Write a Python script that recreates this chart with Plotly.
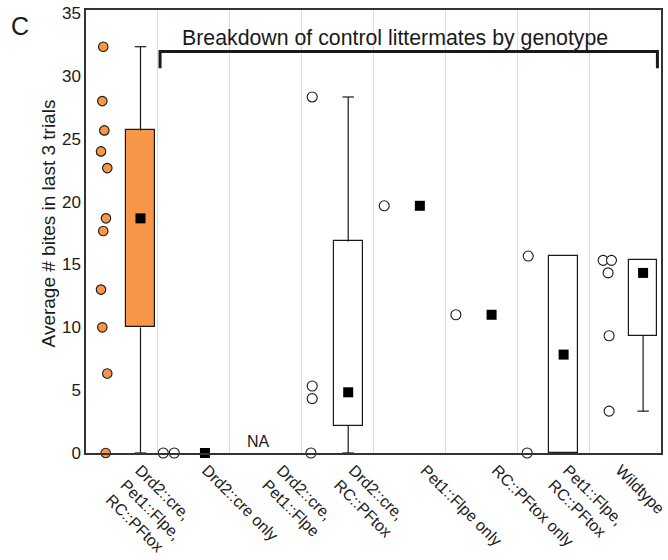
import plotly.graph_objects as go

# ---------------- data ----------------
categories = [
    "Drd2::cre,<br>Pet1::Flpe,<br>RC::PFtox",
    "Drd2::cre only",
    "Drd2::cre,<br>Pet1::Flpe",
    "Drd2::cre,<br>RC::PFtox",
    "Pet1::Flpe only",
    "RC::PFtox only",
    "Pet1::Flpe,<br>RC::PFtox",
    "Wildtype",
]
points_exp = [32.33, 28.0, 25.67, 24.0, 22.67, 18.67, 17.67, 13.0, 10.0, 6.33, 0.0]
points_drd2_only = [0.0, 0.0]
points_drd2_pet1 = []  # NA
points_drd2_rc = [28.33, 5.33, 4.33, 0.0]
points_pet1_only = [19.67]
points_rc_only = [11.0]
points_pet1_rc = [15.67, 0.0]
points_wt = [15.33, 15.33, 14.33, 9.33, 3.33]
all_points = [points_exp, points_drd2_only, points_drd2_pet1, points_drd2_rc,
              points_pet1_only, points_rc_only, points_pet1_rc, points_wt]

# box summaries (None = not drawn)
box_median = [18.67, 0.0, None, 4.83, 19.67, 11.0, 7.83, 14.33]
box_q1 = [10.0, None, None, 2.17, None, None, 0.0, 9.33]
box_q3 = [25.67, None, None, 16.83, None, None, 15.67, 15.33]
box_lo = [0.0, None, None, 0.0, None, None, 0.0, 3.33]
box_hi = [32.33, None, None, 28.33, None, None, 15.67, 15.33]

y_ticks = [0, 5, 10, 15, 20, 25, 30, 35]

# ---------------- layout positions ----------------
point_jitter = [
    [-0.26, -0.273, -0.245, -0.291, -0.204, -0.222, -0.26, -0.291, -0.273, -0.204, -0.226],
    [-0.425, -0.272],
    [],
    [-0.353, -0.353, -0.353, -0.37],
    [-0.351],
    [-0.354],
    [-0.348, -0.362],
    [-0.305, -0.189, -0.236, -0.222, -0.222],
]
box_offset = [0.258, 0.155, 0, 0.148, 0.145, 0.143, 0.145, 0.251]
tick_offset = [0.25, 0.18, 0.22, 0.22, 0.22, 0.21, 0.20, -0.07]
BOX_W = 0.40
CAP = 0.08
ORANGE = "#F79646"

fig = go.Figure()

# boxes
bx, bbase, bh, bcol = [], [], [], []
for i in range(len(categories)):
    if box_q1[i] is not None:
        bx.append(i + box_offset[i])
        bbase.append(box_q1[i])
        bh.append(box_q3[i] - box_q1[i])
        bcol.append(ORANGE if i == 0 else "white")
fig.add_trace(go.Bar(x=bx, y=bh, base=bbase, width=BOX_W,
                     marker=dict(color=bcol, line=dict(color="#1a1a1a", width=1.2)),
                     showlegend=False, hoverinfo="skip"))

# whiskers
wx, wy = [], []
for i in range(len(categories)):
    if box_q1[i] is None:
        continue
    xc = i + box_offset[i]
    if box_lo[i] < box_q1[i]:
        wx += [xc, xc, None, xc - CAP, xc + CAP, None]
        wy += [box_q1[i], box_lo[i], None, box_lo[i], box_lo[i], None]
    if box_hi[i] > box_q3[i]:
        wx += [xc, xc, None, xc - CAP, xc + CAP, None]
        wy += [box_q3[i], box_hi[i], None, box_hi[i], box_hi[i], None]
fig.add_trace(go.Scatter(x=wx, y=wy, mode="lines", line=dict(color="#1a1a1a", width=1.2),
                         showlegend=False, hoverinfo="skip", cliponaxis=False))

# points
for i, pts in enumerate(all_points):
    if not pts:
        continue
    xs = [i + j for j in point_jitter[i]]
    fill = ORANGE if i == 0 else "white"
    fig.add_trace(go.Scatter(x=xs, y=pts, mode="markers", cliponaxis=False,
                             marker=dict(size=10 if i else 9.5, color=fill, symbol="circle",
                                         line=dict(color="#1a1a1a", width=1.1)),
                             showlegend=False))

# medians (black squares)
mx = [i + box_offset[i] for i in range(len(categories)) if box_median[i] is not None]
my = [m for m in box_median if m is not None]
fig.add_trace(go.Scatter(x=mx, y=my, mode="markers", cliponaxis=False,
                         marker=dict(size=10, color="black", symbol="square"),
                         showlegend=False))

# NA label
fig.add_annotation(x=1.9, y=0.95, text="NA", showarrow=False,
                   font=dict(size=16, color="#1a1a1a"))

# bracket
fig.add_shape(type="path", path="M 0.53 30.62 L 0.53 31.94 L 7.45 31.94 L 7.45 30.62",
              line=dict(color="#1a1a1a", width=3))
fig.add_annotation(x=3.8, y=33.0, text="Breakdown of control littermates by genotype",
                   showarrow=False, font=dict(size=21.3, color="#1a1a1a"))

# panel letter and y title
fig.add_annotation(xref="paper", yref="paper", x=-0.115, y=0.965, xanchor="center",
                   yanchor="middle", text="C", showarrow=False,
                   font=dict(size=25, color="#1a1a1a"))
fig.add_annotation(xref="paper", yref="paper", x=-0.0645, y=0.518, xanchor="center",
                   yanchor="middle", text="Average # bites in last 3 trials", textangle=-90,
                   showarrow=False, font=dict(size=19, color="#1a1a1a"))

fig.update_layout(
    width=668, height=560,
    margin=dict(l=86, r=7, t=10, b=107),
    plot_bgcolor="white", paper_bgcolor="white",
    font=dict(family="Liberation Sans, Arial, sans-serif", color="#1a1a1a"),
    barmode="overlay", bargap=0,
    xaxis=dict(range=[-0.5, 7.5], tickvals=[i + tick_offset[i] for i in range(len(categories))],
               ticktext=categories, tickangle=45, tickfont=dict(size=16),
               ticklabeloverflow="allow", automargin=False,
               showgrid=False, zeroline=False, ticks="",
               showline=True, linecolor="#333333", linewidth=1.5, mirror=True,
               minor=dict(tickmode="linear", tick0=0.5, dtick=1, showgrid=True,
                          gridcolor="#dcdcdc", gridwidth=1.3, ticks="")),
    yaxis=dict(range=[0, 35.25], tickvals=y_ticks, tickfont=dict(size=17),
               automargin=False,
               showgrid=False, zeroline=False, ticks="",
               showline=True, linecolor="#333333", linewidth=1.5, mirror=True),
)

fig.write_html("out.html")
